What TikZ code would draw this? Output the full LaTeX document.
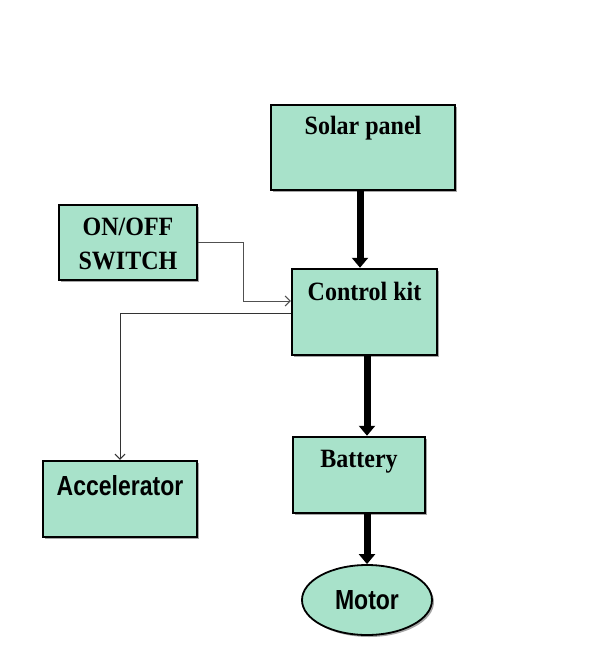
\documentclass[tikz,border=0pt]{standalone}
\usepackage{graphicx}
\usepackage{fontspec}
\newfontfamily\arialfont{Liberation Sans}
\newfontfamily\timesfont{Liberation Serif}
\usetikzlibrary{arrows.meta,shadows,calc,shapes.geometric}
\definecolor{mint}{RGB}{168,226,202}
\definecolor{thinline}{RGB}{80,80,80}
\newcommand\serstretch[1]{\scalebox{1}[1.1]{#1}}
\newcommand\sanstretch[1]{\scalebox{1}[1.2]{#1}}
\tikzset{
  box/.style={draw=black, line width=2.5pt, fill=mint, rectangle,
    drop shadow={shadow xshift=2pt, shadow yshift=-2pt, opacity=0.35, fill=black}},
  oval/.style={draw=black, line width=1.8pt, fill=mint, ellipse,
    drop shadow={shadow xshift=2pt, shadow yshift=-2pt, opacity=0.35, fill=black}},
  sertext/.style={font=\timesfont\bfseries\fontsize{24}{28}\selectfont, align=center, inner sep=0pt},
  santext/.style={font=\arialfont\bfseries\fontsize{23}{27}\selectfont, inner sep=0pt},
  thick arrow/.style={line width=7pt, -{Triangle[width=16pt,length=10pt]}},
  thin arrow/.style={line width=1pt, draw=thinline, -{Straight Barb[length=5pt,width=10pt]}}
}
\begin{document}
\begin{tikzpicture}[x=1pt,y=-1pt]
\useasboundingbox (0,0) rectangle (597,666);
\fill[white] (0,0) rectangle (597,666);
% boxes
\node[box, minimum width=184pt, minimum height=85pt] (solar) at (363,147.5) {};
\node[box, minimum width=138pt, minimum height=75pt] (sw) at (128,242.5) {};
\node[box, minimum width=145pt, minimum height=86pt] (ctrl) at (364.5,312) {};
\node[box, minimum width=132pt, minimum height=76pt] (batt) at (359,475) {};
\node[box, minimum width=154pt, minimum height=76pt] (acc) at (120,499) {};
\node[oval, minimum width=130pt, minimum height=70pt] (motor) at (367,600) {};
% texts
\node[sertext] (solart) at ($(solar.north)+(0,24)$) {\serstretch{Solar panel}};
\node[sertext] (swt1) at ($(sw.north)+(0,23)$) {\serstretch{ON/OFF}};
\node[sertext] (swt2) at ($(sw.north)+(0,57)$) {\serstretch{SWITCH}};
\node[sertext] (ctrlt) at ($(ctrl.north)+(0,24)$) {\serstretch{Control kit}};
\node[sertext] (battt) at ($(batt.north)+(0,26)$) {\serstretch{Battery}};
\node[santext] (acct) at ($(acc.north)+(0,26)$) {\sanstretch{Accelerator}};
\node[santext] (motort) at (motor.center) {\sanstretch{Motor}};
% connectors
\coordinate (sa) at ($(solar.south)+(-3,0)$);
\draw[thick arrow] (sa) -- (sa |- ctrl.north);
\coordinate (cb) at ($(ctrl.south)+(2.5,0)$);
\draw[thick arrow] (cb) -- (cb |- batt.north);
\draw[thick arrow] (batt.south -| motor.north) -- (motor.north);
\coordinate (swbend) at (243,242.5);
\coordinate (ctrlin) at ($(ctrl.west)+(0,-11)$);
\draw[thin arrow] (sw.east) -- (swbend) |- (ctrlin);
\coordinate (ctrlout) at ($(ctrl.west)+(0,1)$);
\draw[thin arrow, draw=black!80] (ctrlout) -| (acc.north);
\end{tikzpicture}
\end{document}
